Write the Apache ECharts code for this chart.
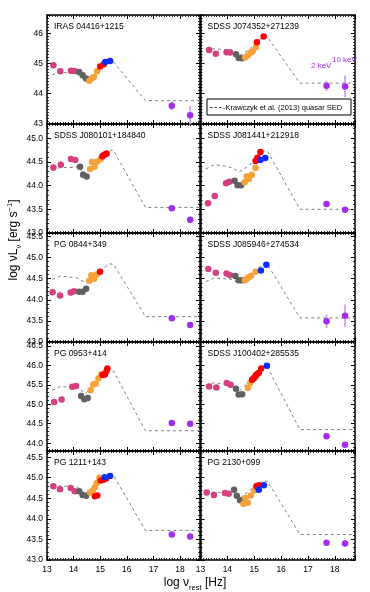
<!DOCTYPE html>
<html>
<head>
<meta charset="utf-8">
<script src="https://cdn.jsdelivr.net/npm/echarts@6/dist/echarts.min.js"></script>
<style>
html,body{margin:0;padding:0;background:#fff}
#chart{width:370px;height:592px}
</style>
</head>
<body>
<div id="chart"></div>
<script>
// panel names, left to right then top to bottom
const panelNames = [
  'IRAS 04416+1215', 'SDSS J074352+271239',
  'SDSS J080101+184840', 'SDSS J081441+212918',
  'PG 0844+349', 'SDSS J085946+274534',
  'PG 0953+414', 'SDSS J100402+285535',
  'PG 1211+143', 'PG 2130+099'
]

// Krawczyk et al. (2013) template, as drawn in each panel
const sedX = [13.2, 13.5, 13.85, 14.15, 14.45, 14.8, 15.1, 15.35, 15.5, 16.7, 18.75]
const sedY = [
  [44.63, 44.71, 44.68, 44.65, 44.42, 44.68, 44.95, 45.1, 45.05, 43.77, 43.77],
  [45.49, 45.48, 45.46, 45.45, 45.26, 45.45, 45.72, 45.88, 45.86, 44.35, 44.35],
  [44.32, 44.38, 44.38, 44.39, 44.22, 44.42, 44.62, 44.75, 44.74, 43.54, 43.54],
  [44.35, 44.44, 44.42, 44.38, 44.29, 44.42, 44.6, 44.73, 44.72, 43.5, 43.5],
  [44.48, 44.56, 44.54, 44.51, 44.4, 44.57, 44.74, 44.85, 44.84, 43.6, 43.6],
  [44.43, 44.51, 44.5, 44.48, 44.38, 44.55, 44.73, 44.84, 44.83, 43.57, 43.57],
  [45.36, 45.46, 45.44, 45.42, 45.28, 45.52, 45.74, 45.86, 45.85, 44.32, 44.32],
  [45.49, 45.55, 45.52, 45.46, 45.34, 45.58, 45.8, 45.93, 45.94, 44.35, 44.35],
  [44.81, 44.8, 44.79, 44.77, 44.61, 44.82, 44.98, 45.07, 45.06, 43.72, 43.72],
  [44.62, 44.65, 44.64, 44.62, 44.5, 44.67, 44.83, 44.92, 44.91, 43.62, 43.62]
]

// photometry [log nu, log nuLnu]
const pinkPts = [
  [[13.24, 44.94], [13.5, 44.74], [13.9, 44.76], [14.04, 44.75]],
  [[13.32, 45.44], [13.57, 45.32], [13.97, 45.37], [14.1, 45.36]],
  [[13.24, 44.38], [13.52, 44.44], [13.9, 44.56], [14.06, 44.54]],
  [[13.28, 43.63], [13.53, 43.78], [13.95, 44.05], [14.07, 44.08]],
  [[13.21, 44.18], [13.49, 44.1], [13.89, 44.17], [14.02, 44.2]],
  [[13.29, 44.73], [13.57, 44.64], [13.97, 44.62], [14.1, 44.58]],
  [[13.27, 45.06], [13.55, 45.12], [13.95, 45.45], [14.09, 45.47]],
  [[13.32, 45.46], [13.59, 45.43], [13.98, 45.55], [14.12, 45.5]],
  [[13.24, 44.79], [13.49, 44.72], [13.89, 44.75], [14.04, 44.67]],
  [[13.23, 44.64], [13.5, 44.58], [13.91, 44.63], [14.05, 44.61]]
]
const grayPts = [
  [[14.21, 44.72], [14.34, 44.61], [14.47, 44.5]],
  [[14.32, 45.3], [14.42, 45.18], [14.55, 45.17]],
  [[14.24, 44.4], [14.36, 44.23], [14.49, 44.19]],
  [[14.27, 44.1], [14.38, 44.01], [14.51, 44.01]],
  [[14.21, 44.19], [14.34, 44.19], [14.47, 44.26]],
  [[14.3, 44.56], [14.42, 44.46], [14.55, 44.46]],
  [[14.28, 45.21], [14.4, 45.13], [14.53, 45.16]],
  [[14.32, 45.4], [14.42, 45.25], [14.55, 45.26]],
  [[14.21, 44.67], [14.34, 44.58], [14.47, 44.56]],
  [[14.25, 44.71], [14.35, 44.56], [14.47, 44.45]]
]
const orangePts = [
  [[14.59, 44.43], [14.7, 44.52], [14.76, 44.55], [14.88, 44.74]],
  [[14.66, 45.2], [14.76, 45.26], [14.86, 45.35], [14.94, 45.4], [15.06, 45.53]],
  [[14.62, 44.35], [14.69, 44.5], [14.79, 44.4], [14.89, 44.51], [15.02, 44.56]],
  [[14.64, 44.07], [14.72, 44.19], [14.8, 44.14], [14.91, 44.23], [15.05, 44.37]],
  [[14.59, 44.45], [14.67, 44.58], [14.77, 44.5], [14.87, 44.6]],
  [[14.65, 44.46], [14.72, 44.5], [14.8, 44.53], [14.88, 44.57], [15.05, 44.66]],
  [[14.64, 45.36], [14.74, 45.51], [14.83, 45.53], [14.93, 45.66], [15.04, 45.77]],
  [[14.76, 45.42], [14.85, 45.55]],
  [[14.62, 44.64], [14.72, 44.69], [14.8, 44.77], [14.87, 44.87], [14.97, 45.0]],
  [[14.6, 44.37], [14.67, 44.51], [14.76, 44.39], [14.87, 44.57], [15.0, 44.69]]
]
const redPts = [
  [[15.0, 44.9], [15.13, 44.97]],
  [[15.1, 45.7], [15.35, 45.89]],
  [[15.08, 44.62], [15.13, 44.64], [15.19, 44.66], [15.24, 44.68]],
  [[15.05, 44.52], [15.12, 44.59], [15.23, 44.71]],
  [[14.99, 44.66]],
  [],
  [[15.09, 45.75], [15.14, 45.76], [15.18, 45.77], [15.24, 45.86], [15.27, 45.92]],
  [[14.92, 45.63], [14.97, 45.66], [15.01, 45.69], [15.06, 45.74], [15.1, 45.77], [15.17, 45.81], [15.26, 45.92]],
  [[14.8, 44.55], [14.89, 44.57], [15.02, 44.93], [15.12, 44.95], [15.22, 44.98]],
  [[15.08, 44.79], [15.17, 44.82]]
]
const bluePts = [
  [[15.19, 45.05], [15.37, 45.08]],
  [],
  [],
  [[15.23, 44.54], [15.41, 44.58]],
  [],
  [[15.25, 44.69], [15.45, 44.83]],
  [],
  [[15.47, 45.99]],
  [[15.17, 45.01], [15.37, 45.04]],
  [[15.17, 44.71], [15.36, 44.82]]
]

// X-ray: 2 keV and 10 keV
const xrayX = [17.69, 18.38]
const xrayY = [
  [43.6, 43.29], [44.26, 44.24], [43.52, 43.28], [43.61, 43.49], [43.56, 43.4],
  [43.49, 43.62], [44.52, 44.5], [44.18, 43.96], [43.62, 43.57], [43.42, 43.4]
]
const xrayErr = [
  [0.15, 0.3], [0.17, 0.36], [0, 0], [0, 0], [0, 0],
  [0.16, 0.27], [0, 0], [0, 0], [0, 0], [0, 0]
]

// y range of each row
const rowMin = [43, 43, 43, 43.8, 43]
const rowMax = [46.6, 45.3, 45.58, 46.6, 45.65]
const rowStep = [1, 0.5, 0.5, 0.5, 0.5]
const xMin = 13, xMax = 18.75

// layout
const rowTop = [15, 124, 233, 342, 451]
const rowH = 109
const colLeft = [47, 200.5]
const colW = [153, 154.5]
const FONT = 'Liberation Sans, Arial, sans-serif'

const chart = echarts.init(document.getElementById('chart'))

function isMult(v, s) {
  const k = v / s
  return Math.abs(k - Math.round(k)) < 1e-6
}

const grid = [], xAxis = [], yAxis = [], series = [], graphic = []

panelNames.forEach((name, i) => {
  const r = Math.floor(i / 2), c = i % 2
  grid.push({ left: colLeft[c], top: rowTop[r], width: colW[c], height: rowH, containLabel: false })

  const lineSt = { show: true, onZero: false, lineStyle: { color: '#000', width: 1.5 } }
  const tick = { show: true, inside: true, length: 4, lineStyle: { color: '#000', width: 1 } }

  ;['bottom', 'top'].forEach(pos => {
    xAxis.push({
      type: 'value', gridIndex: i, position: pos, min: xMin, max: xMax, interval: 1,
      axisLine: lineSt, axisTick: tick,
      minorTick: { show: true, splitNumber: 10, length: 2, lineStyle: { color: '#000', width: 0.8 } },
      splitLine: { show: false },
      axisLabel: {
        show: pos === 'bottom' && r === 4, color: '#000', fontSize: 8.5, fontFamily: FONT, margin: 5,
        formatter: v => isMult(v, 1) ? String(v) : ''
      }
    })
  })

  const step = rowStep[r]
  ;['left', 'right'].forEach(pos => {
    const ax = {
      type: 'value', gridIndex: i, position: pos, min: rowMin[r], max: rowMax[r],
      axisLine: lineSt, axisTick: tick,
      minorTick: { show: true, splitNumber: step === 1 ? 10 : 5, length: 2, lineStyle: { color: '#000', width: 0.8 } },
      splitLine: { show: false },
      axisLabel: {
        show: pos === 'left' && c === 0, color: '#000', fontSize: 8.5, fontFamily: FONT, margin: 4,
        formatter: v => isMult(v, step) ? (step === 1 ? v.toFixed(0) : v.toFixed(1)) : ''
      }
    }
    if (isMult(rowMin[r], step)) ax.interval = step
    else ax.splitNumber = 5
    yAxis.push(ax)
  })

  const xi = 2 * i, yi = 2 * i
  series.push({
    type: 'line', xAxisIndex: xi, yAxisIndex: yi, z: 1, silent: true,
    showSymbol: false, symbol: 'none',
    data: sedX.map((x, k) => [x, sedY[i][k]]),
    lineStyle: { color: '#7f7f7f', width: 1, type: [3, 3] }
  })
  const groups = [
    [pinkPts[i], '#d63f80'],
    [grayPts[i], '#606060'],
    [orangePts[i], '#f5a238'],
    [redPts[i], '#ff0000'],
    [bluePts[i], '#0a2dff']
  ]
  groups.forEach(([pts, col]) => {
    series.push({
      type: 'scatter', xAxisIndex: xi, yAxisIndex: yi, z: 3, silent: true,
      symbolSize: 6.5, data: pts, itemStyle: { color: col, opacity: 1 }
    })
  })
  series.push({
    type: 'custom', xAxisIndex: xi, yAxisIndex: yi, z: 2, silent: true,
    data: xrayX.map((x, k) => [x, xrayY[i][k], xrayErr[i][k]]),
    renderItem: (params, api) => {
      const x = api.value(0), y = api.value(1), e = api.value(2)
      const p1 = api.coord([x, y - e]), p2 = api.coord([x, y + e])
      return { type: 'line', shape: { x1: p1[0], y1: p1[1], x2: p2[0], y2: p2[1] },
        style: { stroke: '#d4a6f5', lineWidth: 2 } }
    }
  })
  series.push({
    type: 'scatter', xAxisIndex: xi, yAxisIndex: yi, z: 3, silent: true,
    symbolSize: 6.5, data: xrayX.map((x, k) => [x, xrayY[i][k]]),
    itemStyle: { color: '#a22cf0', opacity: 1 }
  })

  graphic.push({
    type: 'text', left: colLeft[c] + 7, top: rowTop[r] + 7, silent: true,
    style: { text: name, font: '8.5px ' + FONT, fill: '#000' }
  })
})

// legend box in panel 2
graphic.push(
  { type: 'rect', shape: { x: 207, y: 99, width: 144, height: 16 }, silent: true,
    style: { fill: '#fff', stroke: '#000', lineWidth: 1 }, z: 10 },
  { type: 'line', shape: { x1: 210, y1: 107.5, x2: 223, y2: 107.5 }, silent: true,
    style: { stroke: '#444', lineWidth: 1, lineDash: [2.5, 2] }, z: 11 },
  { type: 'text', x: 223, y: 107.5, silent: true, z: 11,
    style: { text: '-Krawczyk et al. (2013) quasar SED', font: '7.5px ' + FONT, fill: '#000', verticalAlign: 'middle' } },
  { type: 'text', x: 311, y: 66, silent: true, z: 11,
    style: { text: '2 keV', font: '8px ' + FONT, fill: '#a22cf0', verticalAlign: 'middle' } },
  { type: 'text', x: 332, y: 60, silent: true, z: 11,
    style: { text: '10 keV', font: '8px ' + FONT, fill: '#a22cf0', verticalAlign: 'middle' } }
)

// axis titles
graphic.push({
  type: 'text', x: 14, y: 240, rotation: Math.PI / 2, silent: true,
  style: {
    text: '{a|log νL}{s|ν}{a| [erg s}{p|−1}{a|]}',
    align: 'center', verticalAlign: 'middle',
    rich: {
      a: { font: '12px ' + FONT, fill: '#000', lineHeight: 17, verticalAlign: 'middle' },
      s: { font: '7.5px ' + FONT, fill: '#000', lineHeight: 17, verticalAlign: 'bottom' },
      p: { font: '7.5px ' + FONT, fill: '#000', lineHeight: 17, verticalAlign: 'top' }
    }
  }
})
graphic.push({
  type: 'text', x: 195, y: 583, silent: true,
  style: {
    text: '{a|log ν}{s|rest}{a| [Hz]}',
    align: 'center', verticalAlign: 'middle',
    rich: {
      a: { font: '12px ' + FONT, fill: '#000', lineHeight: 17, verticalAlign: 'middle' },
      s: { font: '7.5px ' + FONT, fill: '#000', lineHeight: 17, verticalAlign: 'bottom' }
    }
  }
})

chart.setOption({
  animation: false,
  backgroundColor: '#fff',
  grid: grid,
  xAxis: xAxis,
  yAxis: yAxis,
  series: series,
  graphic: graphic
})
</script>
</body>
</html>
